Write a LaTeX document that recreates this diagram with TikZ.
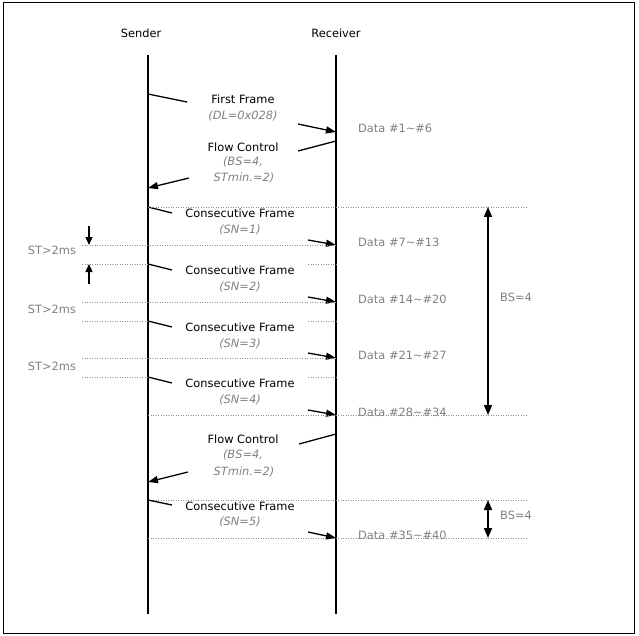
\documentclass[tikz,border=0pt]{standalone}
\usepackage{fontspec}
\setmainfont{DejaVu Sans}
\usetikzlibrary{arrows.meta}
\definecolor{txtgray}{RGB}{128,128,128}
\definecolor{dotgray}{RGB}{140,140,140}
\begin{document}
\begin{tikzpicture}[x=1pt,y=-1pt,
 lbl/.style={font=\fontsize{11.4}{13}\selectfont, inner sep=0pt},
 glbl/.style={lbl, text=txtgray},
 parm/.style={inner sep=0pt, text=txtgray, font=\fontsize{11.4}{13}\selectfont\itshape},
 life/.style={line width=1.3pt},
 msg/.style={line width=1.3pt},
 arr/.style={msg, -{Triangle[length=10pt,width=7pt]}},
 smallarr/.style={line width=1.3pt, -{Triangle[length=8pt,width=7pt]}},
 dbl/.style={line width=1.5pt, {Triangle[length=10pt,width=8pt]}-{Triangle[length=10pt,width=8pt]}},
 dots/.style={dotgray, line width=0.8pt, dash pattern=on 1pt off 1.5pt},
]
\useasboundingbox (0,0) rectangle (639,636);
\draw[line width=1pt] (3,3) rectangle (634,633);

% lifelines
\coordinate (s0) at (148,55); \coordinate (s1) at (148,614);
\coordinate (r0) at (336,55); \coordinate (r1) at (336,614);
\draw[life] (s0) -- (s1);
\draw[life] (r0) -- (r1);
\node[lbl] (snd) at (141,33) {Sender};
\node[lbl] (rcv) at (336,33) {Receiver};

% First frame
\coordinate (ffa) at (148,94); \coordinate (ffb) at (187,102);
\draw[msg] (ffa) -- (ffb);
\node[lbl] (ff) at (243,99) {First Frame};
\node[parm] (ffp) at (243,116) {(DL=0x028)};
\coordinate (ffc) at (298,124); \coordinate (ffd) at (336,132);
\draw[arr] (ffc) -- (ffd);
\node[glbl,anchor=west] (d1) at (358,128) {Data \#1\textasciitilde\#6};

% Flow control 1
\coordinate (fca) at (336,141); \coordinate (fcb) at (298,151);
\draw[msg] (fca) -- (fcb);
\node[lbl] (fc) at (243,147) {Flow Control};
\node[parm] (fcp1) at (243,162) {(BS=4,};
\node[parm] (fcp2) at (244,178) {STmin.=2)};
\coordinate (fcc) at (189,178); \coordinate (fcd) at (148,188);
\draw[arr] (fcc) -- (fcd);

% Consecutive frames 1-4
\foreach \k/\t/\a/\d in {1/207/245/{7\textasciitilde\#13},2/264/302/{14\textasciitilde\#20},3/321/358/{21\textasciitilde\#27},4/377/415/{28\textasciitilde\#34}}{
  \coordinate (cfa\k) at (148,\t); \coordinate (cfb\k) at (172,\t+6);
  \draw[msg] (cfa\k) -- (cfb\k);
  \node[lbl] (cf\k) at (240,\t+6) {Consecutive Frame};
  \node[parm] (sn\k) at (240,\t+23) {(SN=\k)};
  \coordinate (cfc\k) at (308,\a-5); \coordinate (cfd\k) at (336,\a);
  \draw[arr] (cfc\k) -- (cfd\k);
  \node[glbl,anchor=west] (dat\k) at (358,\a-3) {Data \#\d};
}

% dotted guide lines
\coordinate (t1a) at (148,207); \coordinate (t1b) at (526,207);
\draw[dots] (t1a) -- (t1b);
\foreach \k/\t in {2/264,3/321,4/377}{
  \coordinate (ga\k) at (82,\t); \coordinate (gb\k) at (148,\t);
  \coordinate (gc\k) at (308,\t); \coordinate (gd\k) at (336,\t);
  \draw[dots] (ga\k) -- (gb\k);
  \draw[dots] (gc\k) -- (gd\k);
}
\foreach \k/\a/\s in {1/245/250,2/302/309,3/358/366}{
  \coordinate (ha\k) at (82,\a); \coordinate (hb\k) at (336,\a);
  \draw[dots] (ha\k) -- (hb\k);
  \node[glbl] (st\k) at (52,\s) {ST>2ms};
}
\coordinate (b4a) at (148,415); \coordinate (b4b) at (526,415);
\draw[dots] (b4a) -- (b4b);

% ST arrows
\coordinate (sta) at (89,226); \coordinate (stb) at (89,245);
\draw[smallarr] (sta) -- (stb);
\coordinate (stc) at (89,284); \coordinate (std) at (89,264);
\draw[smallarr] (stc) -- (std);

% BS=4 first block
\coordinate (bsa) at (488,207); \coordinate (bsb) at (488,415);
\draw[dbl] (bsa) -- (bsb);
\node[glbl,anchor=west] (bs1) at (500,297) {BS=4};

% Flow control 2
\coordinate (fc2a) at (336,434); \coordinate (fc2b) at (299,444);
\draw[msg] (fc2a) -- (fc2b);
\node[lbl] (fc2) at (243,439) {Flow Control};
\node[parm] (fc2p1) at (243,455) {(BS=4,};
\node[parm] (fc2p2) at (244,472) {STmin.=2)};
\coordinate (fc2c) at (188,472); \coordinate (fc2d) at (148,482);
\draw[arr] (fc2c) -- (fc2d);

% Consecutive frame 5
\coordinate (c5l) at (148,500); \coordinate (c5r) at (526,500);
\draw[dots] (c5l) -- (c5r);
\coordinate (cfa5) at (148,500); \coordinate (cfb5) at (172,505);
\draw[msg] (cfa5) -- (cfb5);
\node[lbl] (cf5) at (240,506) {Consecutive Frame};
\node[parm] (sn5) at (240,522) {(SN=5)};
\coordinate (e5l) at (148,538); \coordinate (e5r) at (526,538);
\draw[dots] (e5l) -- (e5r);
\coordinate (cfc5) at (308,532); \coordinate (cfd5) at (336,538);
\draw[arr] (cfc5) -- (cfd5);
\node[glbl,anchor=west] (dat5) at (358,535) {Data \#35\textasciitilde\#40};

\coordinate (bsc) at (488,500); \coordinate (bsd) at (488,538);
\draw[dbl] (bsc) -- (bsd);
\node[glbl,anchor=west] (bs2) at (500,515) {BS=4};
\end{tikzpicture}
\end{document}
